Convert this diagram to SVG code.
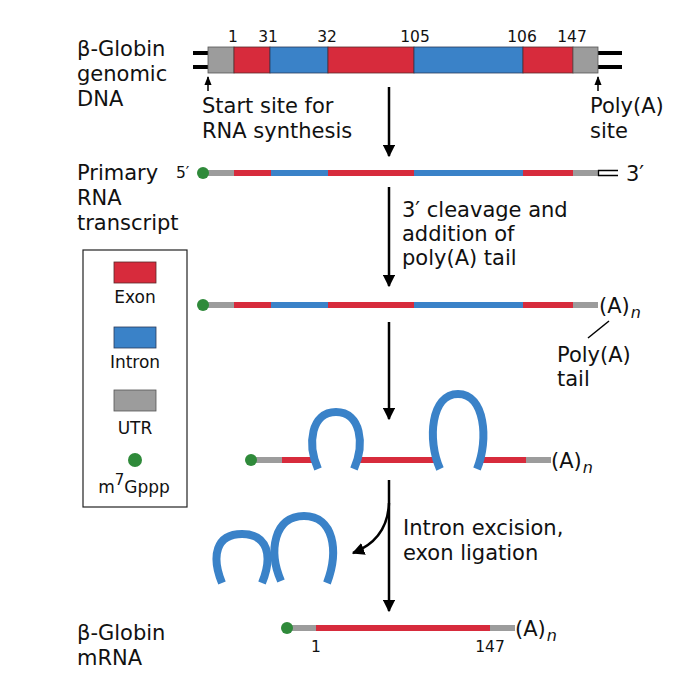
<svg xmlns="http://www.w3.org/2000/svg" width="700" height="700" viewBox="0 0 700 700">
<defs>
<marker id="ah" viewBox="0 0 10 10" refX="9" refY="5" markerWidth="5" markerHeight="5" orient="auto" markerUnits="strokeWidth">
<path d="M0,0 L10,5 L0,10 z" fill="#000"/>
</marker>
<marker id="ahs" viewBox="0 0 10 10" refX="9" refY="5" markerWidth="6" markerHeight="6" orient="auto" markerUnits="strokeWidth">
<path d="M0,1 L10,5 L0,9 z" fill="#000"/>
</marker>
<style>
text{font-family:"DejaVu Sans","Liberation Sans",sans-serif;fill:#111}
.lbl{font-size:21px}
.num{font-size:15.5px}
.leg{font-size:17px}
.sub{font-size:16px;font-style:italic}
.ex{fill:#d72b3c;stroke:#5a2a2a;stroke-width:0.8}
.in{fill:#3a82c8;stroke:#2a3a5a;stroke-width:0.8}
.utr{fill:#9c9c9c;stroke:#555;stroke-width:0.8}
.sx{stroke:#d72b3c;stroke-width:6}
.si{stroke:#3a82c8;stroke-width:6}
.su{stroke:#9c9c9c;stroke-width:6}
.cap{fill:#2f8a3a}
.loop{fill:none;stroke:#3a82c8;stroke-width:8}
.arr{stroke:#000;stroke-width:2.5;fill:none;marker-end:url(#ah)}
.sarr{stroke:#000;stroke-width:1.5;fill:none;marker-end:url(#ahs)}
.dl{stroke:#000;stroke-width:4}
</style>
</defs>

<g id="dna">
<text class="lbl" x="77" y="56">β-Globin</text>
<text class="lbl" x="77" y="81">genomic</text>
<text class="lbl" x="77" y="106">DNA</text>
<line class="dl" x1="193" y1="53" x2="208" y2="53"/>
<line class="dl" x1="193" y1="67" x2="208" y2="67"/>
<line class="dl" x1="598" y1="53" x2="622" y2="53"/>
<line class="dl" x1="598" y1="67" x2="622" y2="67"/>
<rect class="utr" x="208" y="47" width="26" height="26"/>
<rect class="ex" x="234" y="47" width="36" height="26"/>
<rect class="in" x="270" y="47" width="58" height="26"/>
<rect class="ex" x="328" y="47" width="86" height="26"/>
<rect class="in" x="414" y="47" width="109" height="26"/>
<rect class="ex" x="523" y="47" width="50" height="26"/>
<rect class="utr" x="573" y="47" width="25" height="26"/>
<g text-anchor="middle">
<text class="num" x="233" y="42">1</text>
<text class="num" x="268" y="42">31</text>
<text class="num" x="327" y="42">32</text>
<text class="num" x="415" y="42">105</text>
<text class="num" x="522" y="42">106</text>
<text class="num" x="572" y="42">147</text>
</g>
<text class="lbl" x="202" y="113">Start site for</text>
<text class="lbl" x="202" y="138">RNA synthesis</text>
<text class="lbl" x="590" y="113">Poly(A)</text>
<text class="lbl" x="590" y="138">site</text>
</g>

<g id="primary">
<text class="lbl" x="77" y="180">Primary</text>
<text class="lbl" x="77" y="205">RNA</text>
<text class="lbl" x="77" y="230">transcript</text>
<text class="num" x="176" y="178">5′</text>
<line class="su" x1="203" y1="173" x2="234" y2="173"/>
<line class="sx" x1="234" y1="173" x2="271" y2="173"/>
<line class="si" x1="271" y1="173" x2="328" y2="173"/>
<line class="sx" x1="328" y1="173" x2="414" y2="173"/>
<line class="si" x1="414" y1="173" x2="523" y2="173"/>
<line class="sx" x1="523" y1="173" x2="573" y2="173"/>
<line class="su" x1="573" y1="173" x2="598" y2="173"/>
<path d="M618,170.5 H598.5 V175.5 H618" fill="#fff" stroke="#000" stroke-width="1.3"/>
<circle class="cap" cx="203" cy="173" r="6"/>
<text class="lbl" x="626" y="181">3′</text>
</g>

<g id="cleaved">
<line class="su" x1="203" y1="305" x2="234" y2="305"/>
<line class="sx" x1="234" y1="305" x2="271" y2="305"/>
<line class="si" x1="271" y1="305" x2="328" y2="305"/>
<line class="sx" x1="328" y1="305" x2="414" y2="305"/>
<line class="si" x1="414" y1="305" x2="523" y2="305"/>
<line class="sx" x1="523" y1="305" x2="573" y2="305"/>
<line class="su" x1="573" y1="305" x2="598" y2="305"/>
<circle class="cap" cx="203" cy="305" r="6"/>
<text class="lbl" x="599" y="313">(A)<tspan class="sub" dx="1" dy="5">n</tspan></text>
<line x1="609" y1="321" x2="588" y2="338" stroke="#000" stroke-width="1.5"/>
<text class="lbl" x="557" y="362">Poly(A)</text>
<text class="lbl" x="557" y="386">tail</text>
</g>

<g id="splicing">
<line class="su" x1="251" y1="460" x2="282" y2="460"/>
<line class="sx" x1="282" y1="460" x2="318" y2="460"/>
<line class="sx" x1="355" y1="460" x2="439" y2="460"/>
<line class="sx" x1="477" y1="460" x2="526" y2="460"/>
<line class="su" x1="526" y1="460" x2="551" y2="460"/>
<path class="loop" d="M318,469 C307,444 311,412 336,412 C361,412 365,444 354,469"/>
<path class="loop" d="M440,469 C427,440 431,394 458,394 C485,394 489,440 477,469"/>
<circle class="cap" cx="251" cy="460" r="6"/>
<text class="lbl" x="551" y="468">(A)<tspan class="sub" dx="1" dy="5">n</tspan></text>
</g>

<g id="excised">
<path class="loop" d="M222,583 C211,556 216,534 242,534 C268,534 273,556 262,583"/>
<path class="loop" d="M281,581 C268,551 274,516 304,516 C334,516 339,551 327,583"/>
</g>

<g id="mrna">
<text class="lbl" x="77" y="640">β-Globin</text>
<text class="lbl" x="77" y="665">mRNA</text>
<line class="su" x1="287" y1="628" x2="316" y2="628"/>
<line class="sx" x1="316" y1="628" x2="490" y2="628"/>
<line class="su" x1="490" y1="628" x2="515" y2="628"/>
<circle class="cap" cx="287" cy="628" r="6"/>
<text class="lbl" x="515" y="636">(A)<tspan class="sub" dx="1" dy="5">n</tspan></text>
<text class="num" x="316" y="652" text-anchor="middle">1</text>
<text class="num" x="490" y="652" text-anchor="middle">147</text>
</g>

<g id="legend">
<rect x="83" y="250" width="104" height="257" fill="#fff" stroke="#222" stroke-width="1.2"/>
<rect class="ex" x="114" y="262" width="42" height="21"/>
<text class="leg" x="135" y="303" text-anchor="middle">Exon</text>
<rect class="in" x="114" y="327" width="42" height="21"/>
<text class="leg" x="135" y="368" text-anchor="middle">Intron</text>
<rect class="utr" x="114" y="390" width="42" height="21"/>
<text class="leg" x="135" y="434" text-anchor="middle">UTR</text>
<circle class="cap" cx="135" cy="460" r="7"/>
<text class="leg" x="134" y="493" text-anchor="middle">m<tspan font-size="15" dy="-8">7</tspan><tspan dy="8">Gppp</tspan></text>
</g>

<g id="step-labels">
<text class="lbl" x="402" y="217">3′ cleavage and</text>
<text class="lbl" x="402" y="241">addition of</text>
<text class="lbl" x="402" y="265">poly(A) tail</text>
<text class="lbl" x="403" y="535">Intron excision,</text>
<text class="lbl" x="403" y="560">exon ligation</text>
</g>

<g id="connectors">
<line class="arr" x1="389" y1="87" x2="389" y2="156"/>
<line class="arr" x1="389" y1="187" x2="389" y2="286"/>
<line class="arr" x1="389" y1="322" x2="389" y2="419"/>
<line class="arr" x1="389" y1="480" x2="389" y2="611"/>
<path class="arr" d="M389,503 C388,528 376,544 353,553"/>
<line class="sarr" x1="208" y1="91" x2="208" y2="77"/>
<line class="sarr" x1="598" y1="91" x2="598" y2="77"/>
</g>
</svg>
